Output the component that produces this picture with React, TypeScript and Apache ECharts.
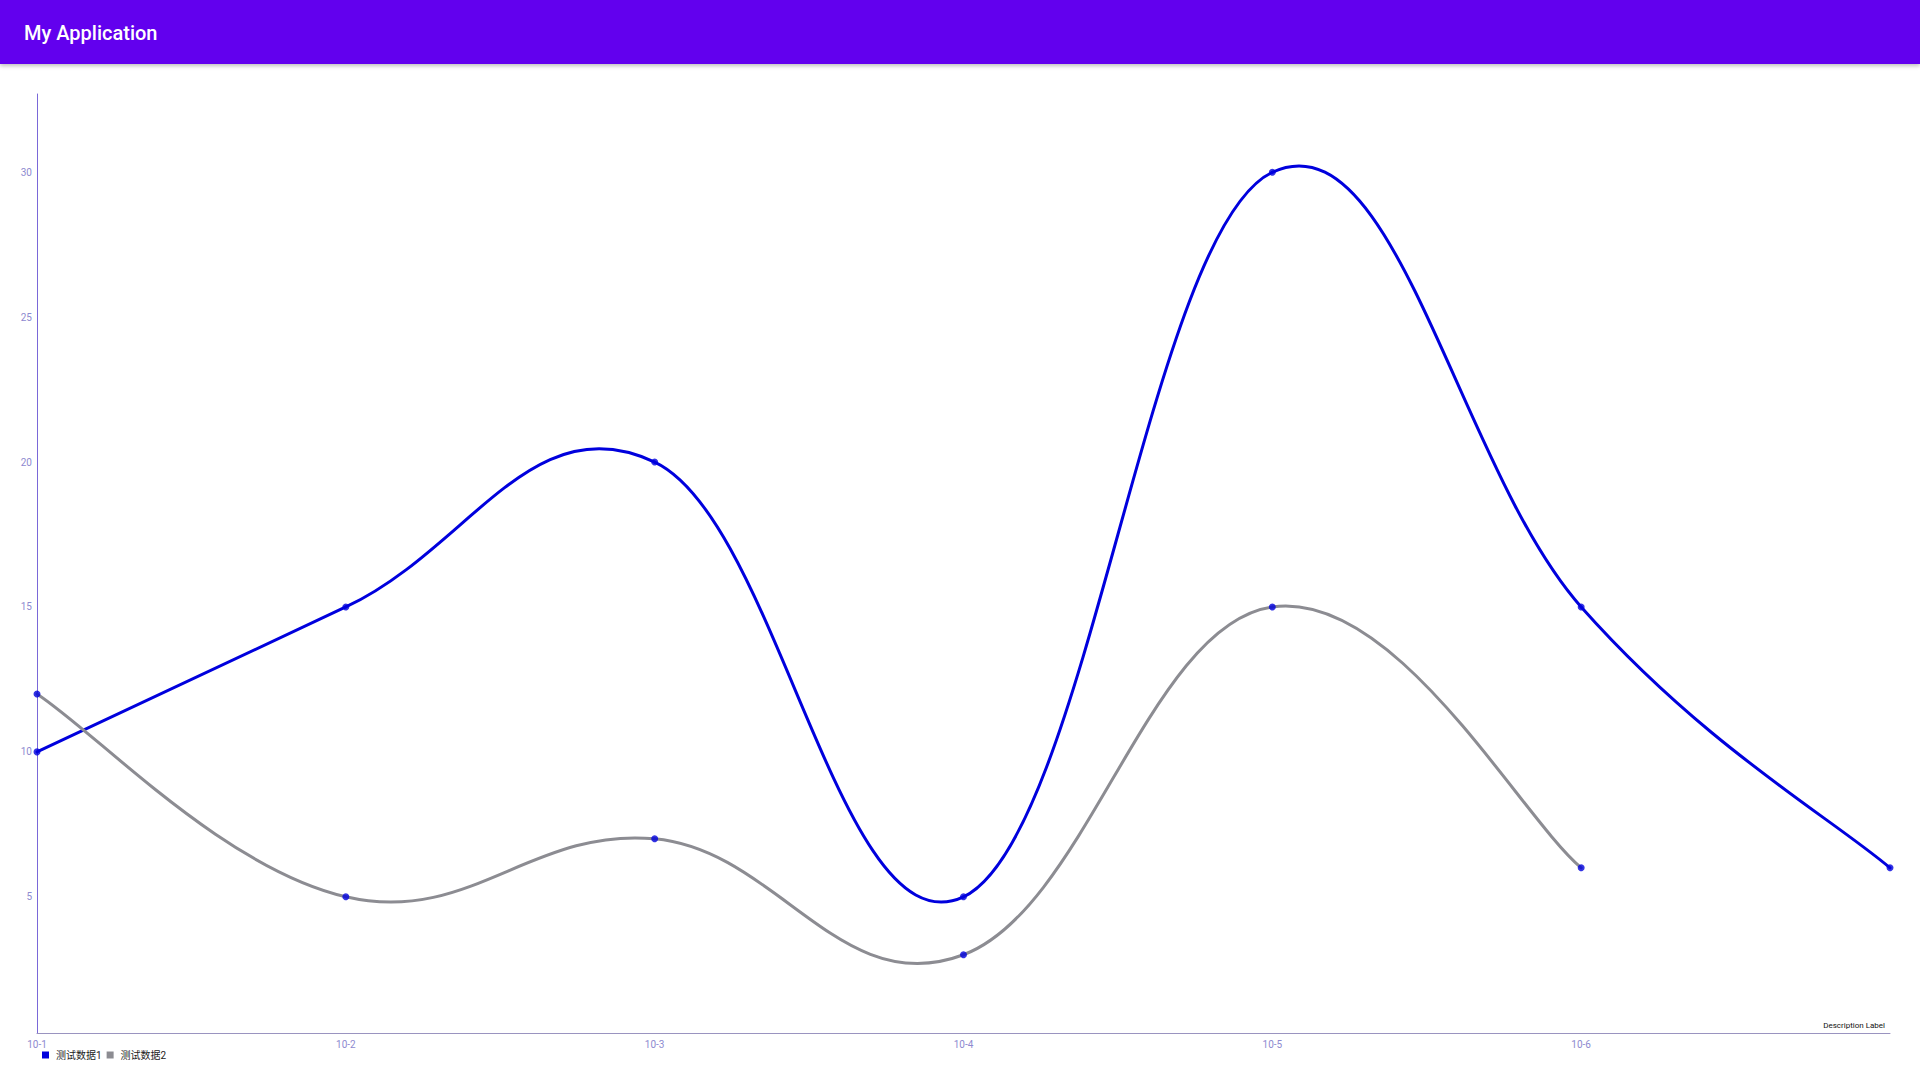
import React, { useEffect, useRef } from "react";
import * as echarts from "echarts";

const categories = ["10-1", "10-2", "10-3", "10-4", "10-5", "10-6", "10-7"];
const series1Name = "测试数据1";
const series2Name = "测试数据2";
const series1Values = [10, 15, 20, 5, 30, 15, 6];
const series2Values = [12, 5, 7, 3, 15, 6];
const yTickValues = [5, 10, 15, 20, 25, 30];
const xLabelIndices = [0, 1, 2, 3, 4, 5];

const BLUE = "#0000dd";
const GRAY = "#8c8c92";
const FONT = "Roboto, 'Noto Sans CJK SC', sans-serif";

// MPAndroidChart-style cubic bezier segment control points (intensity 0.2)
function segment(values: number[], j: number) {
  const n = values.length;
  const I = 0.2;
  const pp = Math.max(j - 2, 0);
  const p = j - 1;
  const nx = Math.min(j + 1, n - 1);
  return {
    p0: [p, values[p]],
    c1: [p + (j - pp) * I, values[p] + (values[j] - values[pp]) * I],
    c2: [j - (nx - p) * I, values[j] - (values[nx] - values[p]) * I],
    p1: [j, values[j]],
  };
}

function curveSeries(name: string, values: number[], color: string, z: number) {
  const data = values.slice(1).map((v, i) => [i + 1, v]);
  return {
    type: "custom",
    name,
    z,
    itemStyle: { color },
    data,
    renderItem: (params: any, api: any) => {
      const j = api.value(0);
      const s = segment(values, j);
      const a = api.coord(s.p0);
      const b = api.coord(s.c1);
      const c = api.coord(s.c2);
      const d = api.coord(s.p1);
      return {
        type: "bezierCurve",
        shape: {
          x1: a[0], y1: a[1],
          cpx1: b[0], cpy1: b[1],
          cpx2: c[0], cpy2: c[1],
          x2: d[0], y2: d[1],
        },
        style: { stroke: color, lineWidth: 3, fill: null, lineCap: "round" },
      };
    },
  };
}

function Chart() {
  const ref = useRef<HTMLDivElement>(null);
  useEffect(() => {
    if (!ref.current) return;
    const chart = echarts.init(ref.current, null, { renderer: "svg" });
    chart.setOption({
      animation: false,
      textStyle: { fontFamily: FONT },
      grid: { left: 37, right: 30, top: 30, bottom: 47, containLabel: false },
      legend: {
        left: 37,
        top: 981,
        itemWidth: 7,
        itemHeight: 7,
        itemGap: 5,
        icon: "rect",
        textStyle: { fontSize: 10, color: "#222", fontFamily: FONT, padding: [0, 0, 0, 2] },
        data: [
          { name: series1Name, itemStyle: { color: BLUE } },
          { name: series2Name, itemStyle: { color: GRAY } },
        ],
      },
      xAxis: {
        type: "value",
        min: 0,
        max: categories.length - 1,
        axisLine: { show: true, lineStyle: { color: "#9a94c0", width: 1 } },
        axisTick: { show: false },
        splitLine: { show: false },
        axisLabel: {
          customValues: xLabelIndices,
          fontSize: 10,
          color: "#8e8ad0",
          margin: 6,
          formatter: (v: number) => categories[Math.round(v)],
        },
      },
      yAxis: {
        type: "value",
        min: 0.3,
        max: 32.7,
        axisLine: { show: true, lineStyle: { color: "#7a68d8", width: 1 } },
        axisTick: { show: false },
        splitLine: { show: false },
        axisLabel: {
          customValues: yTickValues,
          fontSize: 10,
          color: "#8e8ad0",
          margin: 5,
        },
      },
      graphic: [
        {
          type: "text",
          right: 35,
          top: 957,
          style: { text: "Description Label", fontSize: 8, fill: "#111", fontFamily: FONT },
        },
      ],
      series: [
        curveSeries(series1Name, series1Values, BLUE, 2),
        curveSeries(series2Name, series2Values, GRAY, 3),
        {
          type: "scatter",
          name: "pts1",
          z: 5,
          symbol: "circle",
          symbolSize: 7,
          itemStyle: { color: BLUE },
          data: series1Values.map((v, i) => [i, v]),
        },
        {
          type: "scatter",
          name: "pts2",
          z: 5,
          symbol: "circle",
          symbolSize: 7,
          itemStyle: { color: BLUE },
          data: series2Values.map((v, i) => [i, v]),
        },
      ],
    });
    return () => chart.dispose();
  }, []);
  return (
    <div
      ref={ref}
      style={{ position: "absolute", left: 0, top: 64, width: 1920, height: 1016 }}
    />
  );
}

export default function App() {
  return (
    <div
      style={{
        position: "fixed",
        left: 0,
        top: 0,
        width: 1920,
        height: 1080,
        background: "#fff",
        overflow: "hidden",
        fontFamily: FONT,
      }}
    >
      <Chart />
      <div
        style={{
          position: "absolute",
          left: 0,
          top: 0,
          width: 1920,
          height: 64,
          background: "#6200EE",
          boxShadow: "0 2px 4px rgba(0,0,0,0.25)",
          zIndex: 2,
        }}
      >
        <div
          style={{
            position: "absolute",
            left: 24,
            top: 0,
            height: 64,
            lineHeight: "66px",
            color: "#fff",
            fontSize: 20,
            fontWeight: 500,
            fontFamily: "Roboto, sans-serif",
          }}
        >
          My Application
        </div>
      </div>
    </div>
  );
}
